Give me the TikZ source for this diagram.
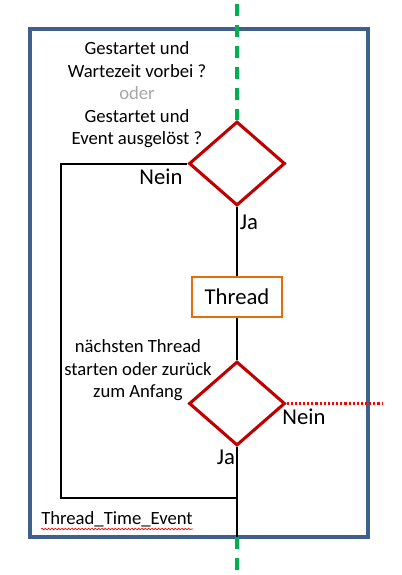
\documentclass[tikz,border=0pt]{standalone}
\usepackage{fontspec}
\setmainfont{Carlito}
\usetikzlibrary{shapes.geometric,decorations.pathmorphing}
\definecolor{boxblue}{HTML}{3F5F8C}
\definecolor{dred}{HTML}{C00000}
\definecolor{orng}{HTML}{E46C0A}
\definecolor{grn}{HTML}{00B050}
\definecolor{odergray}{HTML}{A6A6A6}
\tikzset{
  frame/.style={draw=boxblue, line width=2.4pt, minimum width=253.5pt, minimum height=381pt, inner sep=0pt},
  decision/.style={diamond, draw=dred, line width=2.3pt, minimum width=72pt, minimum height=63pt, inner sep=0pt},
  threadbox/.style={draw=orng, line width=1.6pt, minimum width=67.5pt, minimum height=30pt, inner sep=0pt, font=\fontsize{17pt}{20pt}\selectfont},
  flow/.style={draw=black, line width=1.5pt},
  greendash/.style={draw=grn, line width=2.3pt, dash pattern=on 9pt off 6.75pt},
  reddot/.style={draw=red, line width=1.6pt, dash pattern=on 1.6pt off 1.5pt},
  big/.style={font=\fontsize{17pt}{20pt}\selectfont, inner sep=0pt},
  txt/.style={font=\fontsize{14pt}{16.9pt}\selectfont, align=center, inner sep=0pt},
}
\begin{document}
\begin{tikzpicture}[x=0.75pt,y=-0.75pt]
\useasboundingbox (0,0) rectangle (402,575);
\node[frame] (fr) at (199,283) {};
\node[decision] (d1) at (237,163.5) {};
\node[threadbox] (t) at (237,297) {Thread};
\node[decision] (d2) at (237,403.5) {};
\coordinate (top) at (237,4);
\coordinate (bot) at (237,575);
\coordinate (fb) at (237,537);
\coordinate (tl) at (61,163.5);
\coordinate (bl) at (61,498);
\coordinate (jn) at (237,498);
\coordinate (rend) at (382,403.5);
\draw[greendash] (top) -- (d1.north);
\draw[flow] (d1.south) -- (t.north);
\draw[flow] (t.south) -- (d2.north);
\draw[flow] (d2.south) -- (fb);
\draw[greendash] (fb) -- (bot);
\draw[flow, line join=miter] (d1.west) -- (tl) -- (bl) -- (jn);
\draw[reddot] (d2.east) -- (rend);
\node[txt] (q1) at (137,95) {Gestartet und\\Wartezeit vorbei ?\\{\color{odergray}oder}\\Gestartet und\\Event ausgelöst ?};
\node[txt] (q2) at (138,370.5) {nächsten Thread\\starten oder zurück\\zum Anfang};
\node[big] (n1) at (161,177) {Nein};
\node[big] (j1) at (249,222) {Ja};
\node[big] (n2) at (304,417) {Nein};
\node[big] (j2) at (226,457) {Ja};
\node[txt, anchor=west] (lbl) at (41,519) {Thread\_Time\_Event};
\draw[red, line width=0.5pt, decorate, decoration={snake, amplitude=0.6pt, segment length=2.5pt}] (lbl.south west) ++(0,2) -- ++(152,0);
\end{tikzpicture}
\end{document}
